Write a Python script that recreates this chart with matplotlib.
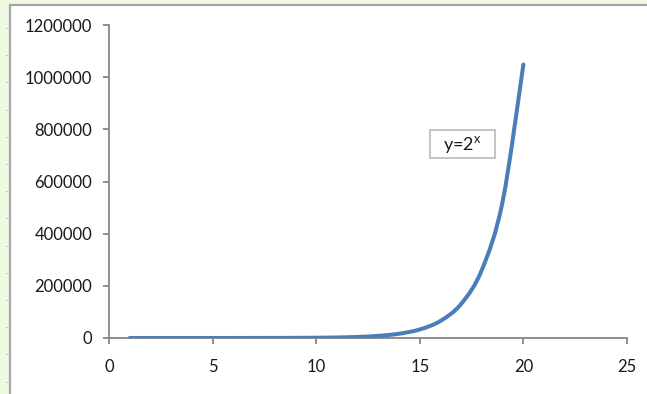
import numpy as np
import matplotlib
matplotlib.use("Agg")
import matplotlib.pyplot as plt
from matplotlib.patches import Rectangle, PathPatch
from matplotlib.path import Path

# y = 2^x for integer x
x_vals = list(range(1, 21))
y_vals = [2, 4, 8, 16, 32, 64, 128, 256, 512, 1024, 2048, 4096, 8192, 16384,
          32768, 65536, 131072, 262144, 524288, 1048576]
x_ticks = [0, 5, 10, 15, 20, 25]
y_ticks = [0, 200000, 400000, 600000, 800000, 1000000, 1200000]
label_text = r"y=2$^{\mathregular{x}}$"

W, H = 647, 394
plt.rcParams['font.family'] = ['Lato', 'DejaVu Sans']

fig = plt.figure(figsize=(W / 100, H / 100), dpi=100)
fig.patch.set_facecolor('#eff9e2')

# white sheet with a grey frame on the left and top
sheet = Rectangle((10 / W, -0.05), 1.1, (H - 5) / H + 0.05,
                  transform=fig.transFigure, facecolor='white',
                  edgecolor='#a6a6a6', linewidth=1.6, zorder=-5)
fig.patches.append(sheet)
# little row markers along the left margin
for yy in np.arange(28, H, 27.2):
    fig.add_artist(plt.Line2D([6 / W, 9 / W], [1 - yy / H, 1 - yy / H],
                              transform=fig.transFigure, color='#c8c8c8',
                              lw=0.8, zorder=-4))

ax = fig.add_axes([109 / W, (H - 338) / H, (627 - 109) / W, (338 - 25) / H])
ax.set_facecolor('none')
ax.set_xlim(0, 25)
ax.set_ylim(0, 1200000)
ax.set_xticks(x_ticks)
ax.set_yticks(y_ticks)
ax.set_yticklabels([str(v) for v in y_ticks])
ax.set_xticklabels([str(v) for v in x_ticks])
for s in ['top', 'right']:
    ax.spines[s].set_visible(False)
for s in ['left', 'bottom']:
    ax.spines[s].set_color('#868686')
    ax.spines[s].set_linewidth(1.3)
ax.tick_params(axis='both', direction='out', length=4, width=1.3,
               color='#868686', labelsize=12, labelcolor='#1a1a1a')
ax.tick_params(axis='y', pad=8)
ax.tick_params(axis='x', pad=11)

# smoothed curve through the points (Catmull-Rom as cubic Bezier)
pts = np.column_stack([x_vals, y_vals]).astype(float)
verts = [tuple(pts[0])]
codes = [Path.MOVETO]
n = len(pts)
for i in range(n - 1):
    p0 = pts[max(i - 1, 0)]
    p1 = pts[i]
    p2 = pts[i + 1]
    p3 = pts[min(i + 2, n - 1)]
    c1 = p1 + (p2 - p0) / 6.0
    c2 = p2 - (p3 - p1) / 6.0
    verts += [tuple(c1), tuple(c2), tuple(p2)]
    codes += [Path.CURVE4] * 3
curve = PathPatch(Path(verts, codes), facecolor='none', edgecolor='#4a7ebb',
                  linewidth=2.9, capstyle='round', joinstyle='round', zorder=3)
ax.add_patch(curve)

# label box
fig.patches.append(Rectangle((430 / W, 1 - 158 / H), 65 / W, 28 / H,
                             transform=fig.transFigure, facecolor='white',
                             edgecolor='#bfbfbf', linewidth=1.3, zorder=4))
fig.text(462 / W, 1 - 145 / H, label_text, ha='center', va='center',
         fontsize=13, color='#1a1a1a', zorder=5)

fig.savefig('out.png', dpi=100, facecolor=fig.get_facecolor())
